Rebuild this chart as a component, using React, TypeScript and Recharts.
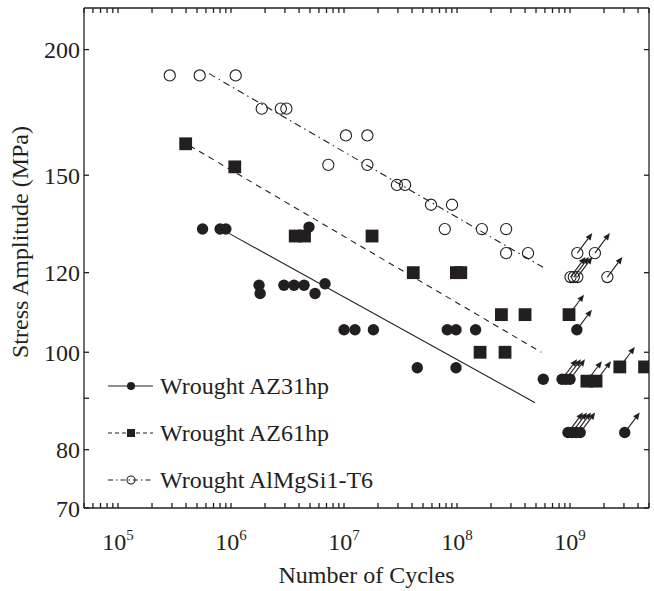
import { ScatterChart, Scatter, XAxis, YAxis } from "recharts";

const ink = "#231f20";
const serif = "'Liberation Serif', 'Times New Roman', serif";

// axis ranges and ticks
const cycleDomain = [5e4, 5e9];
const stressDomain = [70, 220];
const decadeExponents = [5, 6, 7, 8, 9];
const stressTicks = [70, 80, 90, 100, 120, 150, 200];
const stressLabels = ["70", "80", "", "100", "120", "150", "200"];

// minor ticks 2..9 in every decade, plus the decades themselves
const cycleTicks: number[] = [];
for (let e = 4; e <= 9; e++) {
  for (let k = 1; k <= 9; k++) {
    const v = k * Math.pow(10, e);
    if (v >= cycleDomain[0] && v <= cycleDomain[1]) cycleTicks.push(v);
  }
}

// Wrought AZ31hp - failures
const az31Cycles = [5.6e5, 8.0e5, 9.0e5, 4.9e6, 1.77e6, 1.81e6, 2.94e6, 3.61e6, 4.43e6, 5.54e6, 6.79e6, 1.0e7, 1.25e7, 1.82e7, 8.2e7, 9.8e7, 1.46e8, 4.45e7, 9.8e7, 5.8e8];
const az31Stress = [132.6, 132.6, 132.6, 133.2, 116.6, 114.4, 116.6, 116.6, 116.6, 114.4, 117, 105.3, 105.3, 105.3, 105.3, 105.3, 105.3, 96.5, 96.5, 94];
// Wrought AZ31hp - run-outs
const az31RunCycles = [1.15e9, 8.5e8, 9.2e8, 1.0e9, 9.6e8, 1.04e9, 1.13e9, 1.23e9, 3.05e9];
const az31RunStress = [105.3, 94, 94, 94, 83.2, 83.2, 83.2, 83.2, 83.2];

// Wrought AZ61hp - failures
const az61Cycles = [3.97e5, 1.08e6, 3.7e6, 4.47e6, 1.77e7, 4.1e7, 9.87e7, 1.08e8, 2.47e8, 4.0e8, 1.6e8, 2.66e8];
const az61Stress = [161.2, 152.9, 130.5, 130.5, 130.5, 120, 120, 120, 109, 109, 100, 100];
// Wrought AZ61hp - run-outs
const az61RunCycles = [9.8e8, 1.41e9, 1.7e9, 2.76e9, 4.57e9];
const az61RunStress = [109, 93.6, 93.6, 96.7, 96.7];

// Wrought AlMgSi1-T6 - failures
const almgCycles = [2.87e5, 5.28e5, 1.1e6, 1.87e6, 2.76e6, 3.09e6, 7.26e6, 1.04e7, 1.61e7, 1.61e7, 2.94e7, 3.47e7, 5.89e7, 9.03e7, 7.8e7, 1.66e8, 2.72e8, 2.72e8, 4.25e8];
const almgStress = [188.5, 188.5, 188.5, 174.7, 174.7, 174.7, 153.6, 164.3, 164.3, 153.6, 146.7, 146.7, 140.2, 140.2, 132.6, 132.6, 132.6, 125.5, 125.5];
// Wrought AlMgSi1-T6 - run-outs
const almgRunCycles = [1.16e9, 1.66e9, 1.01e9, 1.08e9, 1.16e9, 2.14e9];
const almgRunStress = [125.5, 125.5, 118.8, 118.8, 118.8, 118.8];

// S-N fit lines (start / end)
const az31FitCycles = [9.6e5, 4.9e8];
const az31FitStress = [131.3, 89.1];
const az61FitCycles = [4.3e5, 5.57e8];
const az61FitStress = [160.5, 100];
const almgFitCycles = [6.4e5, 5.77e8];
const almgFitStress = [189.3, 121.5];

const pts = (n: number[], s: number[]) => n.map((v, i) => ({ n: v, s: s[i] }));

type Kind = "dot" | "square" | "ring";

const Marker = ({ kind, cx, cy, r }: { kind: Kind; cx: number; cy: number; r: number }) => {
  if (kind === "square") return <rect x={cx - r} y={cy - r} width={2 * r} height={2 * r} fill={ink} />;
  if (kind === "ring") return <circle cx={cx} cy={cy} r={r} fill="none" stroke={ink} strokeWidth={1.1} />;
  return <circle cx={cx} cy={cy} r={r} fill={ink} />;
};

// run-out arrow pointing up and to the right
const RunArrow = ({ cx, cy }: { cx: number; cy: number }) => {
  const dx = 15, dy = -20;
  const len = Math.hypot(dx, dy);
  const ux = dx / len, uy = dy / len;
  const tx = cx + dx, ty = cy + dy;
  const bx = tx - 7 * ux, by = ty - 7 * uy;
  const px = -uy * 3, py = ux * 3;
  return (
    <g>
      <line x1={cx} y1={cy} x2={bx} y2={by} stroke={ink} strokeWidth={1.1} />
      <polygon points={`${tx},${ty} ${bx + px},${by + py} ${bx - px},${by - py}`} fill={ink} />
    </g>
  );
};

const markerSize: Record<Kind, number> = { dot: 5.7, square: 6.4, ring: 5.6 };

const shapeFor = (kind: Kind, runout: boolean) => (props: any) => (
  <g>
    <Marker kind={kind} cx={props.cx} cy={props.cy} r={markerSize[kind]} />
    {runout && <RunArrow cx={props.cx} cy={props.cy} />}
  </g>
);

const noShape = () => <g />;
const blankTick = () => <g />;

const XTick = ({ x, y, payload }: any) => {
  const e = Math.round(Math.log10(payload.value));
  if (!decadeExponents.includes(e) || Math.pow(10, e) !== payload.value) return <g />;
  return (
    <text x={x} y={y + 37} textAnchor="middle" fill={ink} fontFamily={serif} fontSize={24}>
      <tspan>10</tspan>
      <tspan dy={-10} fontSize={15}>{e}</tspan>
    </text>
  );
};

const legendRows = [
  { name: "Wrought AZ31hp", kind: "dot" as Kind, dash: undefined },
  { name: "Wrought AZ61hp", kind: "square" as Kind, dash: "4 3" },
  { name: "Wrought AlMgSi1-T6", kind: "ring" as Kind, dash: "5 3 1.5 3" },
];

const LegendBox = () => (
  <svg width={654} height={591} style={{ position: "absolute", left: 0, top: 0, pointerEvents: "none" }}>
    {legendRows.map((row, i) => {
      const y = 386 + i * 47;
      return (
        <g key={row.name}>
          <line x1={108} y1={y} x2={153} y2={y} stroke={ink} strokeWidth={1.1} strokeDasharray={row.dash} />
          <Marker kind={row.kind} cx={131} cy={y} r={4} />
          <text x={160} y={y + 8} fill={ink} fontFamily={serif} fontSize={24}>{row.name}</text>
        </g>
      );
    })}
  </svg>
);

const App = () => {
  const axisCommon = { stroke: ink, strokeWidth: 1.3, allowDataOverflow: true };
  return (
    <div style={{ position: "relative", width: 654, height: 591 }}>
      <style>{"body{margin:0}"}</style>
      <ScatterChart width={654} height={591} margin={{ top: 7, right: 4, left: 0, bottom: 0 }}>
        <XAxis
          {...axisCommon}
          type="number"
          dataKey="n"
          scale="log"
          domain={cycleDomain}
          ticks={cycleTicks}
          interval={0}
          height={83}
          tickSize={-5}
          tickMargin={10}
          tick={<XTick />}
          label={{
            content: (p: any) => (
              <text x={p.viewBox.x + p.viewBox.width / 2} y={583} textAnchor="middle" fill={ink} fontFamily={serif} fontSize={24}>
                Number of Cycles
              </text>
            ),
          }}
        />
        <XAxis
          {...axisCommon}
          xAxisId="top"
          orientation="top"
          type="number"
          dataKey="n"
          scale="log"
          domain={cycleDomain}
          ticks={cycleTicks}
          interval={0}
          height={1}
          tickSize={-5}
          tickMargin={0}
          tick={blankTick}
        />
        <YAxis
          {...axisCommon}
          type="number"
          dataKey="s"
          scale="log"
          domain={stressDomain}
          ticks={stressTicks}
          interval={0}
          width={84}
          tickSize={-5}
          tickMargin={9}
          tickFormatter={(v: number) => stressLabels[stressTicks.indexOf(v)] ?? ""}
          tick={{ fill: ink, fontFamily: serif, fontSize: 24 }}
          label={{
            content: () => {
              const cx = 20;
              const cy = 242;
              return (
                <text x={cx} y={cy} transform={`rotate(-90 ${cx} ${cy})`} textAnchor="middle" dominantBaseline="central" fill={ink} fontFamily={serif} fontSize={24}>
                  Stress Amplitude (MPa)
                </text>
              );
            },
          }}
        />
        <YAxis
          {...axisCommon}
          yAxisId="right"
          orientation="right"
          type="number"
          dataKey="s"
          scale="log"
          domain={stressDomain}
          ticks={stressTicks}
          interval={0}
          width={1}
          tickSize={-5}
          tickMargin={0}
          tick={blankTick}
        />

        {/* fit lines; two of them are tied to the top / right frame axes so those axes carry data */}
        <Scatter data={pts(az31FitCycles, az31FitStress)} xAxisId="top" fill={ink} line={{ stroke: ink, strokeWidth: 1.1 }} shape={noShape} isAnimationActive={false} />
        <Scatter data={pts(az61FitCycles, az61FitStress)} yAxisId="right" fill={ink} line={{ stroke: ink, strokeWidth: 1.1, strokeDasharray: "6 5" }} shape={noShape} isAnimationActive={false} />
        <Scatter data={pts(almgFitCycles, almgFitStress)} fill={ink} line={{ stroke: ink, strokeWidth: 1.1, strokeDasharray: "7 4 1.5 4" }} shape={noShape} isAnimationActive={false} />

        <Scatter name="Wrought AlMgSi1-T6" data={pts(almgCycles, almgStress)} fill={ink} shape={shapeFor("ring", false)} isAnimationActive={false} />
        <Scatter data={pts(almgRunCycles, almgRunStress)} fill={ink} shape={shapeFor("ring", true)} isAnimationActive={false} />
        <Scatter name="Wrought AZ61hp" data={pts(az61Cycles, az61Stress)} fill={ink} shape={shapeFor("square", false)} isAnimationActive={false} />
        <Scatter data={pts(az61RunCycles, az61RunStress)} fill={ink} shape={shapeFor("square", true)} isAnimationActive={false} />
        <Scatter name="Wrought AZ31hp" data={pts(az31Cycles, az31Stress)} fill={ink} shape={shapeFor("dot", false)} isAnimationActive={false} />
        <Scatter data={pts(az31RunCycles, az31RunStress)} fill={ink} shape={shapeFor("dot", true)} isAnimationActive={false} />
      </ScatterChart>
      <LegendBox />
    </div>
  );
};

export default App;
